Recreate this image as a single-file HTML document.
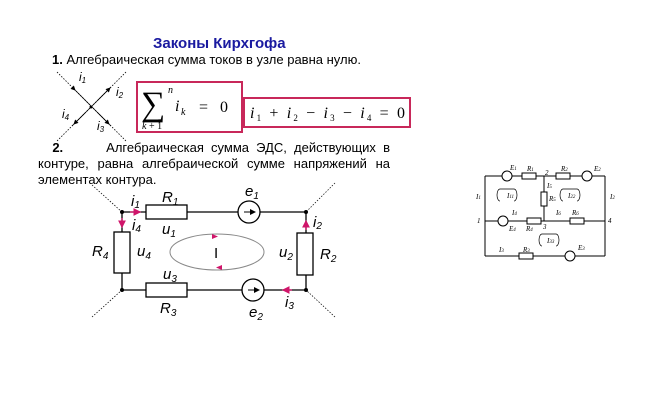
<!DOCTYPE html>
<html><head><meta charset="utf-8"><style>
body{margin:0;width:652px;height:401px;background:#fff;overflow:hidden;position:relative;font-family:"Liberation Sans",sans-serif}
.t{position:absolute;white-space:nowrap;color:#000}
</style></head><body>
<div class="t" style="left:153px;top:35px;font-size:15px;font-weight:bold;color:#1a1aa0">Законы Кирхгофа</div>
<div class="t" style="left:52px;top:52px;font-size:13px"><b>1.</b> Алгебраическая сумма токов в узле равна нулю.</div>
<div class="t" style="left:38px;top:140px;font-size:13px;width:352px;text-align:justify;white-space:normal;line-height:16px"><b>&nbsp;&nbsp;2.</b>&nbsp;&nbsp;&nbsp;&nbsp;&nbsp; Алгебраическая сумма ЭДС, действующих в контуре, равна алгебраической сумме напряжений на элементах контура.</div>
<svg width="652" height="401" style="position:absolute;left:0;top:0" font-family="Liberation Serif, serif">
<defs><marker id="a" markerWidth="6" markerHeight="6" refX="5" refY="3" orient="auto"><path d="M0,0L6,3L0,6z" fill="#000"/></marker>
<marker id="p" markerWidth="6" markerHeight="6" refX="5" refY="3" orient="auto"><path d="M0,0L6,3L0,6z" fill="#d0156a"/></marker></defs>
<g stroke="#000" stroke-width="0.8">
<line x1="57" y1="72" x2="126" y2="141" stroke-dasharray="1.5,1.5"/><line x1="126" y1="72" x2="57" y2="141" stroke-dasharray="1.5,1.5"/>
<line x1="72" y1="87" x2="111" y2="126"/><line x1="111" y1="87" x2="72" y2="126"/>
<line x1="72" y1="87" x2="75" y2="90" marker-end="url(#a)"/>
<line x1="98" y1="100" x2="110" y2="88" marker-end="url(#a)"/>
<line x1="98" y1="113" x2="109" y2="124" marker-end="url(#a)"/>
<line x1="85" y1="113" x2="74" y2="124" marker-end="url(#a)"/>
</g>
<circle cx="91" cy="107" r="1.5"/>
<g font-size="12" font-style="italic" font-family="Liberation Sans,sans-serif"><text x="79" y="81">i<tspan font-size="8" dy="2">1</tspan></text><text x="116" y="96">i<tspan font-size="8" dy="2">2</tspan></text><text x="62" y="118">i<tspan font-size="8" dy="2">4</tspan></text><text x="97" y="130">i<tspan font-size="8" dy="2">3</tspan></text></g>
<rect x="137" y="82" width="105" height="50" fill="none" stroke="#c8285a" stroke-width="2"/>
<rect x="244" y="98" width="166" height="29" fill="none" stroke="#c8285a" stroke-width="2"/>
<text x="141" y="115" font-size="34">∑</text>
<text x="168" y="93" font-size="10" font-style="italic">n</text>
<text x="142" y="129" font-size="10"><tspan font-style="italic">k</tspan> + 1</text>
<text x="175" y="111" font-size="16" font-style="italic">i</text><text x="181" y="115" font-size="10" font-style="italic">k</text>
<text x="199" y="112" font-size="16">=&#160;&#160;&#160;0</text>
<text x="250" y="118" font-size="16" textLength="155"><tspan font-style="italic">i</tspan><tspan font-size="9" dy="3">1</tspan><tspan dy="-3"> + </tspan><tspan font-style="italic">i</tspan><tspan font-size="9" dy="3">2</tspan><tspan dy="-3"> − </tspan><tspan font-style="italic">i</tspan><tspan font-size="9" dy="3">3</tspan><tspan dy="-3"> − </tspan><tspan font-style="italic">i</tspan><tspan font-size="9" dy="3">4</tspan><tspan dy="-3"> = 0</tspan></text>
<g stroke="#000" stroke-width="1.3" fill="#fff">
<line x1="122" y1="212" x2="306" y2="212"/><line x1="122" y1="290" x2="306" y2="290"/>
<line x1="122" y1="212" x2="122" y2="290"/><line x1="306" y1="212" x2="306" y2="290"/>
<rect x="146" y="205" width="41" height="14"/><rect x="146" y="283" width="41" height="14"/>
<rect x="114" y="232" width="16" height="41"/><rect x="297" y="233" width="16" height="42"/>
<circle cx="249" cy="212" r="11"/><circle cx="253" cy="290" r="11"/>
</g>
<g stroke="#000" stroke-width="0.7" stroke-dasharray="1.5,1.5"><line x1="92" y1="185" x2="122" y2="212"/><line x1="335" y1="183" x2="306" y2="212"/><line x1="92" y1="317" x2="122" y2="290"/><line x1="335" y1="317" x2="306" y2="290"/></g>
<line x1="244" y1="212" x2="255" y2="212" stroke="#000" marker-end="url(#a)"/>
<line x1="248" y1="290" x2="259" y2="290" stroke="#000" marker-end="url(#a)"/>
<g fill="#000"><circle cx="122" cy="212" r="2"/><circle cx="306" cy="212" r="2"/><circle cx="122" cy="290" r="2"/><circle cx="306" cy="290" r="2"/></g>
<g stroke="#d0156a" stroke-width="1.3"><line x1="130" y1="212" x2="140" y2="212" marker-end="url(#p)"/><line x1="122" y1="218" x2="122" y2="227" marker-end="url(#p)"/><line x1="306" y1="230" x2="306" y2="221" marker-end="url(#p)"/><line x1="292" y1="290" x2="283" y2="290" marker-end="url(#p)"/></g>
<ellipse cx="217" cy="252" rx="47" ry="18" fill="none" stroke="#888" stroke-width="1"/>
<path d="M212,234L218,236.5L212,239z" fill="#d0156a"/><path d="M222,265L216,267.5L222,270z" fill="#d0156a"/>
<text x="214" y="258" font-size="15" font-family="Liberation Sans,sans-serif">I</text>
<g font-size="15" font-style="italic" font-family="Liberation Sans,sans-serif">
<text x="131" y="206">i<tspan font-size="10" dy="2">1</tspan></text><text x="132" y="230">i<tspan font-size="10" dy="2">4</tspan></text>
<text x="162" y="202">R<tspan font-size="10" dy="3">1</tspan></text><text x="162" y="234">u<tspan font-size="10" dy="3">1</tspan></text>
<text x="245" y="196">e<tspan font-size="10" dy="3">1</tspan></text>
<text x="313" y="227">i<tspan font-size="10" dy="2">2</tspan></text>
<text x="279" y="257">u<tspan font-size="10" dy="3">2</tspan></text><text x="320" y="259">R<tspan font-size="10" dy="3">2</tspan></text>
<text x="92" y="256">R<tspan font-size="10" dy="3">4</tspan></text><text x="137" y="256">u<tspan font-size="10" dy="3">4</tspan></text>
<text x="163" y="279">u<tspan font-size="10" dy="3">3</tspan></text><text x="160" y="313">R<tspan font-size="10" dy="3">3</tspan></text>
<text x="249" y="317">e<tspan font-size="10" dy="3">2</tspan></text><text x="285" y="307">i<tspan font-size="10" dy="2">3</tspan></text>
</g>
<g stroke="#000" stroke-width="1" fill="#fff">
<line x1="485" y1="176" x2="605" y2="176"/><line x1="485" y1="221" x2="605" y2="221"/><line x1="485" y1="256" x2="605" y2="256"/>
<line x1="485" y1="176" x2="485" y2="256"/><line x1="605" y1="176" x2="605" y2="256"/><line x1="544" y1="176" x2="544" y2="221"/>
<rect x="522" y="173" width="14" height="6"/><rect x="556" y="173" width="14" height="6"/>
<rect x="541" y="192" width="6" height="14"/><rect x="527" y="218" width="14" height="6"/><rect x="570" y="218" width="14" height="6"/>
<rect x="519" y="253" width="14" height="6"/>
<circle cx="507" cy="176" r="5"/><circle cx="587" cy="176" r="5"/><circle cx="503" cy="221" r="5"/><circle cx="570" cy="256" r="5"/>
<path d="M500,201a3,6 0 0 1 0,-12h14a3,6 0 0 1 0,12" fill="none" stroke-width="0.7"/>
<path d="M563,201a3,6 0 0 1 0,-12h14a3,6 0 0 1 0,12" fill="none" stroke-width="0.7"/>
<path d="M542,246a3,6 0 0 1 0,-12h14a3,6 0 0 1 0,12" fill="none" stroke-width="0.7"/>
</g>
<g font-size="7" font-style="italic"><text x="510" y="170">E<tspan font-size="5">1</tspan></text><text x="527" y="171">R<tspan font-size="5">1</tspan></text><text x="561" y="171">R<tspan font-size="5">2</tspan></text><text x="594" y="171">E<tspan font-size="5">2</tspan></text>
<text x="476" y="199">I<tspan font-size="5">1</tspan></text><text x="610" y="199">I<tspan font-size="5">2</tspan></text><text x="547" y="188">I<tspan font-size="5">5</tspan></text><text x="549" y="201">R<tspan font-size="5">5</tspan></text>
<text x="507" y="198">I<tspan font-size="5">11</tspan></text><text x="568" y="198">I<tspan font-size="5">22</tspan></text><text x="547" y="243">I<tspan font-size="5">33</tspan></text>
<text x="512" y="215">I<tspan font-size="5">4</tspan></text><text x="556" y="215">I<tspan font-size="5">6</tspan></text><text x="572" y="215">R<tspan font-size="5">6</tspan></text>
<text x="509" y="231">E<tspan font-size="5">4</tspan></text><text x="526" y="231">R<tspan font-size="5">4</tspan></text><text x="543" y="229">3</text><text x="545" y="175">2</text>
<text x="477" y="223">1</text><text x="608" y="223">4</text><text x="499" y="252">I<tspan font-size="5">3</tspan></text><text x="523" y="252">R<tspan font-size="5">3</tspan></text><text x="578" y="250">E<tspan font-size="5">3</tspan></text></g>
</svg>
</body></html>
